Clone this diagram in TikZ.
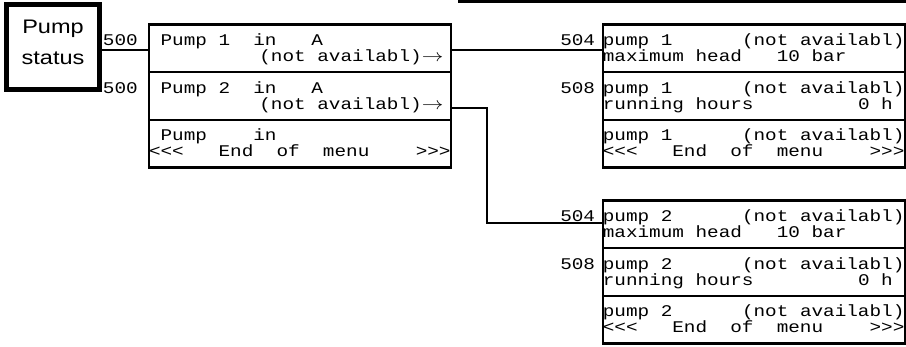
\documentclass[tikz,border=0pt]{standalone}
\usepackage{fontspec}
\usepackage{tikz}
\usetikzlibrary{positioning}
\newfontfamily\lcdfamily[FakeStretch=1.186]{Liberation Mono}
\newfontfamily\headfamily[FakeStretch=1.2]{Liberation Sans}
\setlength{\lineskiplimit}{-100pt}
\newlength\cw \setlength\cw{11.6pt}
\newcommand\gap[1]{\hspace*{#1\cw}}
\newcommand\lcdfnt{\lcdfamily\fontsize{16.3}{16}\selectfont}
\newcommand\headfnt{\headfamily\fontsize{19.6}{31}\selectfont}
\newcommand\twoline[2]{\rule{0pt}{16pt}\mbox{#1}\\\mbox{#2}\rule[-5.7pt]{0pt}{5.7pt}}
\newcommand\rarr{\scalebox{1.25}[1]{$\rightarrow$}}
\newcommand\deep{\rule[-9pt]{0pt}{9pt}}
\tikzset{
  row/.style={draw,line width=2.5pt,minimum width=302pt,minimum height=47.7pt,inner sep=0pt,outer sep=0pt,text width=302pt,align=left,font=\lcdfnt},
  lbl/.style={anchor=base east,inner sep=0pt,font=\lcdfnt},
  conn/.style={line width=2.3pt},
  head/.style={draw,line width=5pt,minimum width=92.5pt,minimum height=85.5pt,inner sep=0pt,align=center,font=\headfnt},
}

\begin{document}
\begin{tikzpicture}[x=1pt,y=-1pt]
 \useasboundingbox (0,0) rectangle (906,347);
 \draw[line width=2.7pt] (458,1.3)--(906,1.3);
 \node[head] (ps) at (53,47) {Pump\\status\deep};
 % menu 500
 \node[row] (m1) at (300,48.3) {\twoline{\gap{1}Pump\gap{1}1\gap{2}in\gap{3}A}{\gap{9}\hspace*{6pt}(not\gap{1}availabl)\rarr}};
 \node[row,below=0pt of m1] (m2) {\twoline{\gap{1}Pump\gap{1}2\gap{2}in\gap{3}A}{\gap{9}\hspace*{6pt}(not\gap{1}availabl)\rarr}};
 \node[row,below=0pt of m2] (m3) {\twoline{\gap{1}Pump\gap{4}in}{<<<\gap{3}End\gap{2}of\gap{2}menu\gap{4}>>>}};
 % pump 1
 \node[row] (a1) at (753.8,48.3) {\twoline{pump\gap{1}1\gap{6}(not\gap{1}availabl)}{maximum\gap{1}head\gap{3}10\gap{1}bar}};
 \node[row,below=0pt of a1] (a2) {\twoline{pump\gap{1}1\gap{6}(not\gap{1}availabl)}{running\gap{1}hours\gap{9}0\gap{1}h}};
 \node[row,below=0pt of a2] (a3) {\twoline{pump\gap{1}1\gap{6}(not\gap{1}availabl)}{<<<\gap{3}End\gap{2}of\gap{2}menu\gap{4}>>>}};
 % pump 2
 \node[row] (b1) at (753.8,224.4) {\twoline{pump\gap{1}2\gap{6}(not\gap{1}availabl)}{maximum\gap{1}head\gap{3}10\gap{1}bar}};
 \node[row,below=0pt of b1] (b2) {\twoline{pump\gap{1}2\gap{6}(not\gap{1}availabl)}{running\gap{1}hours\gap{9}0\gap{1}h}};
 \node[row,below=0pt of b2] (b3) {\twoline{pump\gap{1}2\gap{6}(not\gap{1}availabl)}{<<<\gap{3}End\gap{2}of\gap{2}menu\gap{4}>>>}};
 % line numbers
 \node[lbl] (l500a) at ([xshift=-11pt,yshift=-21pt]m1.north west) {500};
 \node[lbl] (l500b) at ([xshift=-11pt,yshift=-21pt]m2.north west) {500};
 \node[lbl] (l504a) at ([xshift=-7.5pt,yshift=-21pt]a1.north west) {504};
 \node[lbl] (l508a) at ([xshift=-7.5pt,yshift=-21pt]a2.north west) {508};
 \node[lbl] (l504b) at ([xshift=-7.5pt,yshift=-21pt]b1.north west) {504};
 \node[lbl] (l508b) at ([xshift=-7.5pt,yshift=-21pt]b2.north west) {508};
 % links
 \draw[conn] ([yshift=-3pt]ps.east) -- ([yshift=-3pt]ps.east -| m1.west);
 \draw[conn] ([yshift=-1.7pt]m1.east) -- ([yshift=-1.7pt]a1.west);
 \draw[conn] ([yshift=-12.3pt]m2.east) -- ++(35.7pt,0) |- ([yshift=1.7pt]b1.west);
\end{tikzpicture}
\end{document}
